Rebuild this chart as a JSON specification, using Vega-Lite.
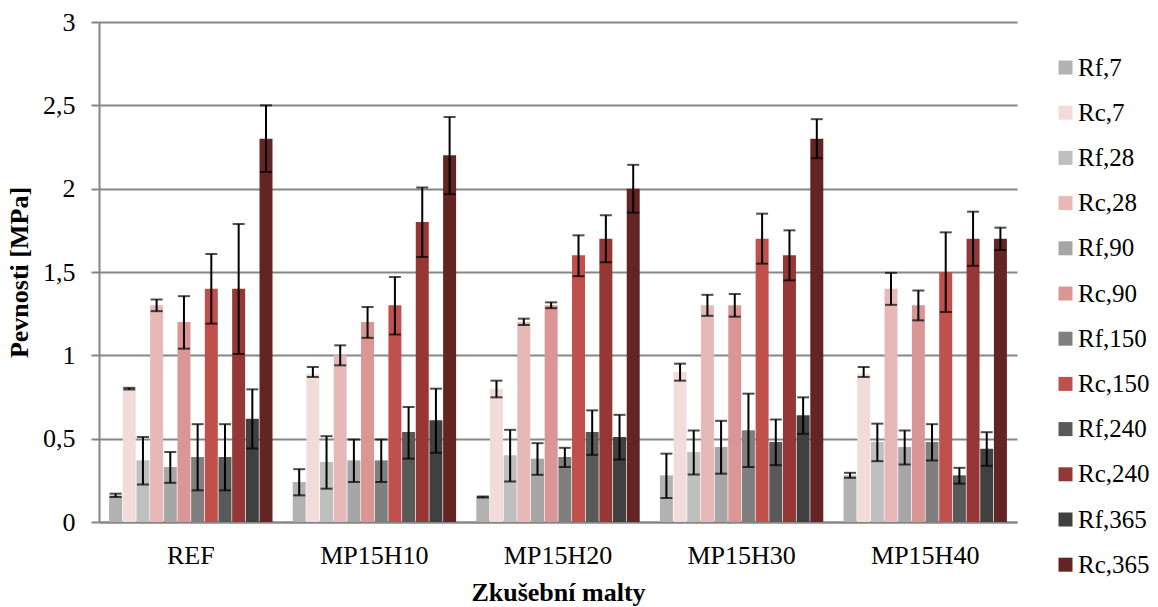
{
  "$schema": "https://vega.github.io/schema/vega-lite/v6.json",
  "width": 918,
  "height": 500,
  "autosize": {"type": "none"},
  "padding": {"left": 99, "top": 22, "right": 141, "bottom": 85},
  "background": "white",
  "config": {
    "view": {"stroke": null},
    "font": "Liberation Serif"
  },
  "data": {
    "values": [
      {"group": "REF", "series": "Rf,7", "value": 0.16, "lo": 0.15, "hi": 0.17},
      {"group": "REF", "series": "Rc,7", "value": 0.80, "lo": 0.795, "hi": 0.805},
      {"group": "REF", "series": "Rf,28", "value": 0.37, "lo": 0.225, "hi": 0.51},
      {"group": "REF", "series": "Rc,28", "value": 1.30, "lo": 1.265, "hi": 1.335},
      {"group": "REF", "series": "Rf,90", "value": 0.33, "lo": 0.235, "hi": 0.42},
      {"group": "REF", "series": "Rc,90", "value": 1.20, "lo": 1.04, "hi": 1.355},
      {"group": "REF", "series": "Rf,150", "value": 0.39, "lo": 0.19, "hi": 0.587},
      {"group": "REF", "series": "Rc,150", "value": 1.40, "lo": 1.19, "hi": 1.608},
      {"group": "REF", "series": "Rf,240", "value": 0.39, "lo": 0.19, "hi": 0.587},
      {"group": "REF", "series": "Rc,240", "value": 1.40, "lo": 1.008, "hi": 1.788},
      {"group": "REF", "series": "Rf,365", "value": 0.62, "lo": 0.441, "hi": 0.796},
      {"group": "REF", "series": "Rc,365", "value": 2.30, "lo": 2.10, "hi": 2.50},

      {"group": "MP15H10", "series": "Rf,7", "value": 0.24, "lo": 0.16, "hi": 0.317},
      {"group": "MP15H10", "series": "Rc,7", "value": 0.89, "lo": 0.87, "hi": 0.93},
      {"group": "MP15H10", "series": "Rf,28", "value": 0.36, "lo": 0.20, "hi": 0.515},
      {"group": "MP15H10", "series": "Rc,28", "value": 1.00, "lo": 0.94, "hi": 1.06},
      {"group": "MP15H10", "series": "Rf,90", "value": 0.37, "lo": 0.24, "hi": 0.495},
      {"group": "MP15H10", "series": "Rc,90", "value": 1.20, "lo": 1.105, "hi": 1.29},
      {"group": "MP15H10", "series": "Rf,150", "value": 0.37, "lo": 0.24, "hi": 0.495},
      {"group": "MP15H10", "series": "Rc,150", "value": 1.30, "lo": 1.125, "hi": 1.47},
      {"group": "MP15H10", "series": "Rf,240", "value": 0.54, "lo": 0.38, "hi": 0.69},
      {"group": "MP15H10", "series": "Rc,240", "value": 1.80, "lo": 1.59, "hi": 2.007},
      {"group": "MP15H10", "series": "Rf,365", "value": 0.61, "lo": 0.415, "hi": 0.80},
      {"group": "MP15H10", "series": "Rc,365", "value": 2.20, "lo": 1.967, "hi": 2.43},

      {"group": "MP15H20", "series": "Rf,7", "value": 0.15, "lo": 0.147, "hi": 0.153},
      {"group": "MP15H20", "series": "Rc,7", "value": 0.80, "lo": 0.748, "hi": 0.848},
      {"group": "MP15H20", "series": "Rf,28", "value": 0.40, "lo": 0.243, "hi": 0.553},
      {"group": "MP15H20", "series": "Rc,28", "value": 1.20, "lo": 1.182, "hi": 1.22},
      {"group": "MP15H20", "series": "Rf,90", "value": 0.38, "lo": 0.283, "hi": 0.473},
      {"group": "MP15H20", "series": "Rc,90", "value": 1.30, "lo": 1.283, "hi": 1.318},
      {"group": "MP15H20", "series": "Rf,150", "value": 0.39, "lo": 0.33, "hi": 0.445},
      {"group": "MP15H20", "series": "Rc,150", "value": 1.60, "lo": 1.475, "hi": 1.72},
      {"group": "MP15H20", "series": "Rf,240", "value": 0.54, "lo": 0.403, "hi": 0.67},
      {"group": "MP15H20", "series": "Rc,240", "value": 1.70, "lo": 1.558, "hi": 1.84},
      {"group": "MP15H20", "series": "Rf,365", "value": 0.51, "lo": 0.375, "hi": 0.643},
      {"group": "MP15H20", "series": "Rc,365", "value": 2.00, "lo": 1.856, "hi": 2.143},

      {"group": "MP15H30", "series": "Rf,7", "value": 0.28, "lo": 0.144, "hi": 0.41},
      {"group": "MP15H30", "series": "Rc,7", "value": 0.90, "lo": 0.848, "hi": 0.95},
      {"group": "MP15H30", "series": "Rf,28", "value": 0.42, "lo": 0.285, "hi": 0.549},
      {"group": "MP15H30", "series": "Rc,28", "value": 1.30, "lo": 1.237, "hi": 1.363},
      {"group": "MP15H30", "series": "Rf,90", "value": 0.45, "lo": 0.29, "hi": 0.607},
      {"group": "MP15H30", "series": "Rc,90", "value": 1.30, "lo": 1.232, "hi": 1.368},
      {"group": "MP15H30", "series": "Rf,150", "value": 0.55, "lo": 0.33, "hi": 0.77},
      {"group": "MP15H30", "series": "Rc,150", "value": 1.70, "lo": 1.55, "hi": 1.85},
      {"group": "MP15H30", "series": "Rf,240", "value": 0.48, "lo": 0.341, "hi": 0.615},
      {"group": "MP15H30", "series": "Rc,240", "value": 1.60, "lo": 1.45, "hi": 1.75},
      {"group": "MP15H30", "series": "Rf,365", "value": 0.64, "lo": 0.529, "hi": 0.748},
      {"group": "MP15H30", "series": "Rc,365", "value": 2.30, "lo": 2.183, "hi": 2.417},

      {"group": "MP15H40", "series": "Rf,7", "value": 0.28, "lo": 0.265, "hi": 0.295},
      {"group": "MP15H40", "series": "Rc,7", "value": 0.89, "lo": 0.87, "hi": 0.93},
      {"group": "MP15H40", "series": "Rf,28", "value": 0.48, "lo": 0.365, "hi": 0.59},
      {"group": "MP15H40", "series": "Rc,28", "value": 1.40, "lo": 1.303, "hi": 1.495},
      {"group": "MP15H40", "series": "Rf,90", "value": 0.45, "lo": 0.345, "hi": 0.549},
      {"group": "MP15H40", "series": "Rc,90", "value": 1.30, "lo": 1.21, "hi": 1.389},
      {"group": "MP15H40", "series": "Rf,150", "value": 0.48, "lo": 0.369, "hi": 0.587},
      {"group": "MP15H40", "series": "Rc,150", "value": 1.50, "lo": 1.26, "hi": 1.738},
      {"group": "MP15H40", "series": "Rf,240", "value": 0.28, "lo": 0.23, "hi": 0.325},
      {"group": "MP15H40", "series": "Rc,240", "value": 1.70, "lo": 1.537, "hi": 1.862},
      {"group": "MP15H40", "series": "Rf,365", "value": 0.44, "lo": 0.337, "hi": 0.539},
      {"group": "MP15H40", "series": "Rc,365", "value": 1.70, "lo": 1.632, "hi": 1.766}
    ]
  },
  "encoding": {
    "x": {
      "field": "group",
      "type": "nominal",
      "sort": ["REF", "MP15H10", "MP15H20", "MP15H30", "MP15H40"],
      "scale": {"paddingInner": 0.11, "paddingOuter": 0.055},
      "axis": {
        "title": "Zkušební malty",
        "titleFont": "Liberation Serif",
        "titleFontSize": 26,
        "titleFontWeight": "bold",
        "titleColor": "black",
        "titlePadding": 11,
        "labelFont": "Liberation Serif",
        "labelFontSize": 26,
        "labelColor": "black",
        "labelAngle": 0,
        "labelPadding": 20,
        "ticks": false,
        "domainColor": "#868686",
        "domainWidth": 2,
        "grid": false
      }
    },
    "xOffset": {
      "field": "series",
      "type": "nominal",
      "sort": ["Rf,7", "Rc,7", "Rf,28", "Rc,28", "Rf,90", "Rc,90", "Rf,150", "Rc,150", "Rf,240", "Rc,240", "Rf,365", "Rc,365"],
      "scale": {"paddingInner": 0.05, "paddingOuter": 0}
    }
  },
  "layer": [
    {
      "mark": {"type": "bar"},
      "encoding": {
        "y": {
          "field": "value",
          "type": "quantitative",
          "scale": {"domain": [0, 3], "nice": false},
          "axis": {
            "title": "Pevnosti [MPa]",
            "titleFont": "Liberation Serif",
            "titleFontSize": 26,
            "titleFontWeight": "bold",
            "titleColor": "black",
            "titlePadding": 10,
            "values": [0, 0.5, 1, 1.5, 2, 2.5, 3],
            "labelExpr": "replace(toString(datum.value), '.', ',')",
            "labelFont": "Liberation Serif",
            "labelFontSize": 26,
            "labelColor": "black",
            "labelPadding": 16,
            "tickSize": 8,
            "tickColor": "#868686",
            "tickWidth": 2,
            "domainColor": "#868686",
            "domainWidth": 2,
            "gridColor": "#868686",
            "gridWidth": 2
          }
        },
        "color": {
          "field": "series",
          "type": "nominal",
          "scale": {
            "domain": ["Rf,7", "Rc,7", "Rf,28", "Rc,28", "Rf,90", "Rc,90", "Rf,150", "Rc,150", "Rf,240", "Rc,240", "Rf,365", "Rc,365"],
            "range": ["#b2b2b2", "#f2dcdb", "#bfbfbf", "#e6b9b8", "#a6a6a6", "#d99694", "#7f7f7f", "#c0504d", "#595959", "#953735", "#404040", "#632523"]
          },
          "legend": {
            "title": null,
            "orient": "none",
            "legendX": 954,
            "legendY": 33,
            "padding": 0,
            "symbolType": "square",
            "symbolSize": 196,
            "symbolStrokeWidth": 0,
            "labelFont": "Liberation Serif",
            "labelFontSize": 25,
            "labelColor": "black",
            "labelOffset": 0,
            "rowPadding": 19.2
          }
        }
      }
    },
    {
      "mark": {"type": "rule", "color": "black", "strokeWidth": 2},
      "encoding": {
        "y": {"field": "lo", "type": "quantitative"},
        "y2": {"field": "hi"}
      }
    },
    {
      "mark": {"type": "tick", "color": "black", "thickness": 2, "size": 12, "orient": "horizontal"},
      "encoding": {
        "y": {"field": "lo", "type": "quantitative"}
      }
    },
    {
      "mark": {"type": "tick", "color": "black", "thickness": 2, "size": 12, "orient": "horizontal"},
      "encoding": {
        "y": {"field": "hi", "type": "quantitative"}
      }
    }
  ]
}
